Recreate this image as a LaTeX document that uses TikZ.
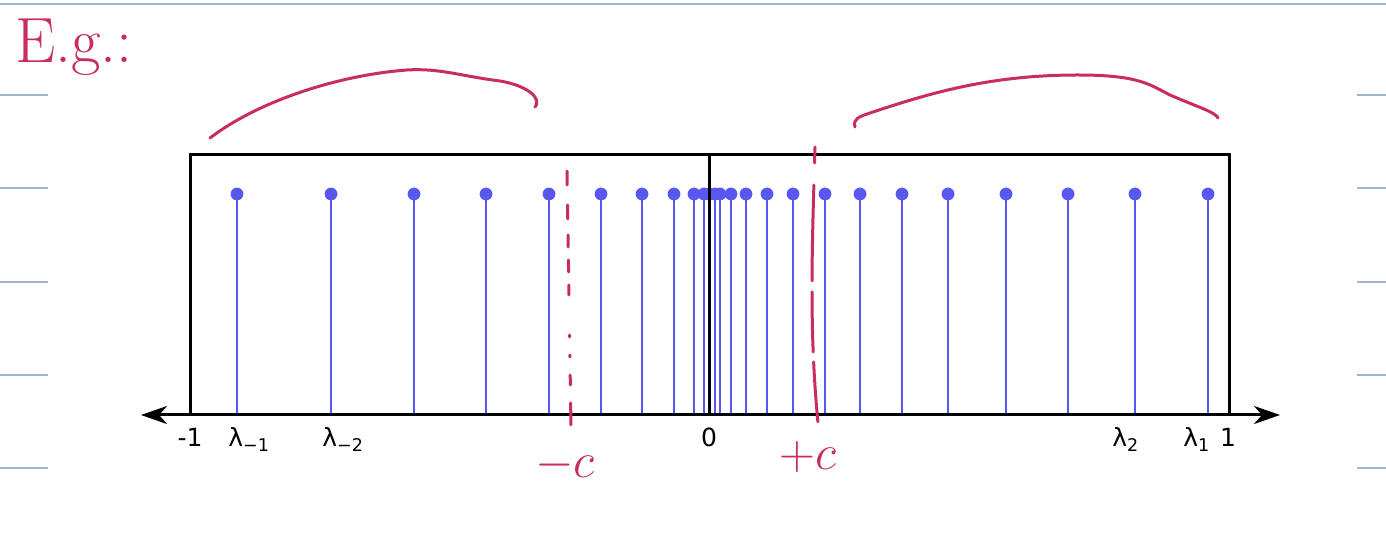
\documentclass[tikz,border=0pt]{standalone}
\usepackage{fontspec}
\setsansfont{DejaVu Sans}
\usetikzlibrary{arrows.meta}
\definecolor{ink}{RGB}{200,44,96}
\definecolor{stemblue}{RGB}{88,88,238}
\definecolor{ruleblue}{RGB}{162,180,206}

\begin{document}
\begin{tikzpicture}[x=0.5pt,y=-0.5pt,
    every node/.style={inner sep=0pt,font=\sffamily\fontsize{12.5}{14}\selectfont},
    tick/.style={anchor=base},
    eig/.style={anchor=base west},
    hand/.style={ink,line width=1.5pt,line cap=round,line join=round},
    stemline/.style={stemblue,line width=1.1pt}]
    \useasboundingbox (0,0) rectangle (1386,544);
    %
    % notebook rules
    \draw[ruleblue,line width=1pt] (0,4) -- (1386,4);
    \foreach \y in {95,188,282,375,468}{
        \draw[ruleblue,line width=0.6pt] (0,\y) -- (48,\y);
        \draw[ruleblue,line width=0.6pt] (1357,\y) -- (1386,\y);
    }
    %
    % eigenvalue stems
    \foreach \x in {237,331,414,486,549,601,642,674,694,704,709,715,720,
            731,746,767,793,825,860,902,948,1006,1068,1135,1208}{
        \draw[stemline] (\x,415) -- (\x,194);
        \fill[stemblue] (\x,194) circle (3.2pt);
    }
    %
    % box, centre line and axis
    \draw[line width=1.5pt] (190,415) rectangle (1229,155);%borders
    \draw[line width=1.5pt] (709,155) -- (709,415);
    \coordinate (axL) at (141,415);
    \coordinate (axR) at (1280,415);
    \draw[line width=1.5pt,
        {Stealth[length=13pt,width=9pt,inset=4pt]}-{Stealth[length=13pt,width=9pt,inset=4pt]}]
        (axL) -- (axR);
    %
    \draw (190,447) node[tick] (mOne) {-1};
    \draw (709,447) node[tick] (zero) {0};
    \draw (1228,447) node[tick] (pOne) {1};
    \draw (228,447) node[eig] (lamM1) {λ\textsubscript{−1}};
    \draw (322,447) node[eig] (lamM2) {λ\textsubscript{−2}};
    \draw (1112,447) node[eig] (lamP2) {λ\textsubscript{2}};
    \draw (1183,447) node[eig] (lamP1) {λ\textsubscript{1}};
    %
    % handwritten notes
    \draw[ink] (15,63) node[anchor=base west,font=\fontsize{32}{34}\selectfont] (eg) {E.g.:};
    \draw[hand] (210,138) .. controls (260,100) and (340,75) .. (407,70)
        .. controls (440,68) and (460,76) .. (500,81)
        .. controls (530,86) and (542,100) .. (535,107);
    \draw[hand] (855,127) .. controls (853,119) and (858,117) .. (870,113)
        .. controls (930,93) and (990,75) .. (1078,75)
        .. controls (1140,75) and (1150,85) .. (1170,95)
        .. controls (1200,108) and (1215,112) .. (1218,118);
    \draw[hand,dash pattern=on 7pt off 10pt on 7pt off 8pt on 6pt off 6.5pt on 6pt off 6.5pt
        on 5pt off 20pt on 1pt off 9pt on 1pt off 9pt on 5pt off 9pt on 11pt]
        (567,171) -- (571,427);
    \draw[hand,dash pattern=on 8pt off 11pt on 48pt off 5.5pt on 30pt off 5pt on 30pt]
        (815,147) .. controls (812,250) and (809,330) .. (818,423);
    \draw[ink] (565,478) node[anchor=base,font=\fontsize{24}{24}\selectfont] (negC) {$-c$};
    \draw[ink] (808,470) node[anchor=base,font=\fontsize{24}{24}\selectfont] (posC) {$+c$};
    %
\end{tikzpicture}
\end{document}
